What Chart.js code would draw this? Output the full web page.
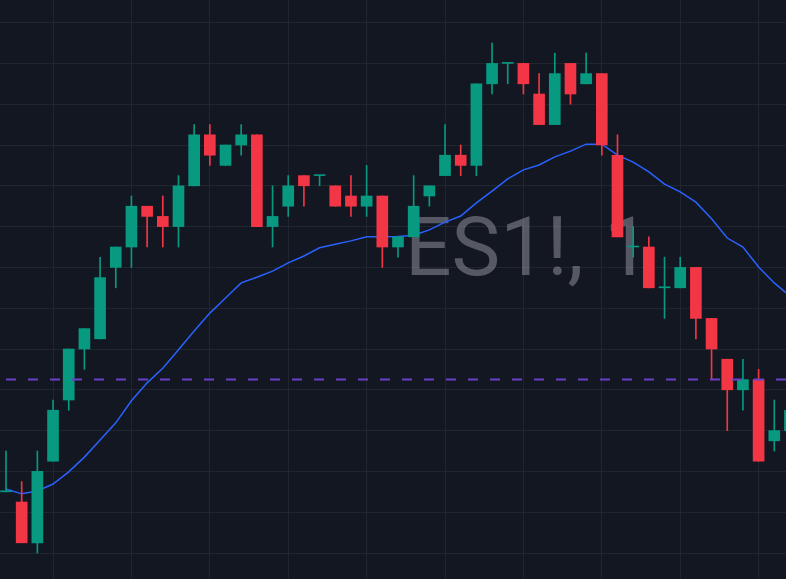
<!DOCTYPE html>
<html>
<head>
<meta charset="UTF-8">
<script src="https://cdn.jsdelivr.net/npm/chart.js"></script>
<style>
    html, body { margin: 0; padding: 0; background: #131722; overflow: hidden; }
    #wrap { width: 786px; height: 579px; }
</style>
</head>
<body>
<div id="wrap"><canvas id="candleChart"></canvas></div>

<script>
    // ES1! 1 minute candles
    const times = ["14:07", "14:08", "14:09", "14:10", "14:11", "14:12", "14:13", "14:14", "14:15", "14:16",
                   "14:17", "14:18", "14:19", "14:20", "14:21", "14:22", "14:23", "14:24", "14:25", "14:26",
                   "14:27", "14:28", "14:29", "14:30", "14:31", "14:32", "14:33", "14:34", "14:35", "14:36",
                   "14:37", "14:38", "14:39", "14:40", "14:41", "14:42", "14:43", "14:44", "14:45", "14:46",
                   "14:47", "14:48", "14:49", "14:50", "14:51", "14:52", "14:53", "14:54", "14:55", "14:56",
                   "14:57"];
    const open  = [5141.5, 5141.25, 5140.25, 5142.25, 5143.75, 5145.0, 5145.25, 5147.0, 5147.5, 5148.5,
                   5148.25, 5148.0, 5149.0, 5150.25, 5149.5, 5150.0, 5150.25, 5148.0, 5148.5, 5149.25,
                   5149.25, 5149.0, 5148.75, 5148.5, 5148.75, 5147.5, 5147.75, 5148.75, 5149.25, 5149.75,
                   5149.5, 5151.5, 5152.0, 5152.0, 5151.25, 5150.5, 5152.0, 5151.5, 5151.75, 5149.75,
                   5147.5, 5147.5, 5146.5, 5146.5, 5147.0, 5145.75, 5144.75, 5144.0, 5144.25, 5142.75,
                   5143.0];
    const high  = [5142.5, 5141.75, 5142.5, 5143.75, 5145.0, 5145.5, 5147.25, 5147.5, 5148.75, 5148.5,
                   5148.75, 5149.25, 5150.5, 5150.5, 5150.0, 5150.5, 5150.25, 5149.0, 5149.25, 5149.25,
                   5149.25, 5149.0, 5149.25, 5149.5, 5148.75, 5147.75, 5149.25, 5149.0, 5150.5, 5150.0,
                   5151.5, 5152.5, 5152.0, 5152.0, 5151.75, 5152.25, 5152.0, 5152.25, 5151.75, 5150.25,
                   5148.0, 5147.75, 5147.25, 5147.25, 5147.0, 5145.75, 5144.75, 5144.75, 5144.5, 5143.75,
                   5143.5];
    const low   = [5141.5, 5140.25, 5140.0, 5142.25, 5143.5, 5144.5, 5145.25, 5146.5, 5147.0, 5147.5,
                   5147.5, 5147.5, 5149.0, 5149.5, 5149.5, 5149.75, 5148.0, 5147.5, 5148.25, 5148.5,
                   5149.0, 5148.5, 5148.25, 5148.25, 5147.0, 5147.25, 5147.75, 5148.5, 5149.25, 5149.25,
                   5149.25, 5151.25, 5151.5, 5151.25, 5150.5, 5150.5, 5151.0, 5151.5, 5149.75, 5147.75,
                   5147.25, 5146.5, 5145.75, 5146.5, 5145.25, 5144.25, 5143.0, 5143.5, 5142.25, 5142.5,
                   5143.0];
    const close = [5141.5, 5140.25, 5142.0, 5143.5, 5145.0, 5145.5, 5146.75, 5147.5, 5148.5, 5148.25,
                   5148.0, 5149.0, 5150.25, 5149.75, 5150.0, 5150.25, 5148.0, 5148.25, 5149.0, 5149.0,
                   5149.25, 5148.5, 5148.5, 5148.75, 5147.5, 5147.75, 5148.5, 5149.0, 5149.75, 5149.5,
                   5151.5, 5152.0, 5152.0, 5151.5, 5150.5, 5151.75, 5151.25, 5151.75, 5150.0, 5147.75,
                   5147.5, 5146.5, 5146.5, 5147.0, 5145.75, 5145.0, 5144.0, 5144.25, 5142.25, 5143.0,
                   5143.5];
    // moving average as plotted
    const ma    = [5141.57, 5141.45, 5141.52, 5141.69, 5141.99, 5142.35, 5142.77, 5143.19, 5143.73, 5144.17,
                   5144.53, 5144.98, 5145.44, 5145.88, 5146.25, 5146.62, 5146.76, 5146.91, 5147.11, 5147.28,
                   5147.48, 5147.57, 5147.65, 5147.75, 5147.75, 5147.76, 5147.79, 5147.92, 5148.11, 5148.26,
                   5148.58, 5148.87, 5149.17, 5149.39, 5149.51, 5149.71, 5149.85, 5150.02, 5150.02, 5149.75,
                   5149.58, 5149.34, 5149.04, 5148.85, 5148.60, 5148.19, 5147.72, 5147.50, 5147.01, 5146.62,
                   5146.30];
    const lastPrice = 5144.25;
    const symbolText = "ES1!, 1";

    const UP = '#089981';
    const DOWN = '#f23645';

    function toMinutes(t) {
        const p = t.split(':');
        return Number(p[0]) * 60 + Number(p[1]);
    }

    const xs = times.map(toMinutes);
    const colors = close.map((c, i) => c >= open[i] ? UP : DOWN);
    const xMin = xs[0] - 0.383;
    const xMax = xMin + 50.13;

    const watermark = {
        id: 'watermark',
        beforeDatasetsDraw(chart) {
            const ctx = chart.ctx;
            ctx.save();
            ctx.font = '82px Roboto';
            ctx.fillStyle = 'rgba(178, 181, 190, 0.42)';
            ctx.textBaseline = 'alphabetic';
            ctx.fillText(symbolText, 405, 275);
            ctx.restore();
        }
    };

    new Chart(document.getElementById('candleChart'), {
        data: {
            datasets: [
                {
                    type: 'line',
                    label: 'Last',
                    data: [{x: xMin, y: lastPrice}, {x: xMax, y: lastPrice}],
                    borderColor: '#6c3fc8',
                    borderWidth: 2,
                    borderDash: [10, 12],
                    borderDashOffset: 16,
                    pointRadius: 0,
                    order: 0
                },
                {
                    type: 'bar',
                    label: 'Body',
                    data: xs.map((x, i) => ({x: x, y: [open[i], close[i]]})),
                    backgroundColor: colors,
                    barThickness: 11,
                    minBarLength: 1,
                    grouped: false,
                    order: 1
                },
                {
                    type: 'bar',
                    label: 'Wick',
                    data: xs.map((x, i) => ({x: x, y: [low[i], high[i]]})),
                    backgroundColor: colors,
                    barThickness: 1,
                    minBarLength: 1,
                    grouped: false,
                    order: 2
                },
                {
                    type: 'line',
                    label: 'MA',
                    data: xs.map((x, i) => ({x: x, y: ma[i]})),
                    borderColor: '#2962ff',
                    borderWidth: 1.5,
                    pointRadius: 0,
                    tension: 0,
                    order: 3
                }
            ]
        },
        options: {
            responsive: true,
            maintainAspectRatio: false,
            animation: false,
            events: [],
            layout: { padding: 0 },
            plugins: {
                legend: { display: false },
                tooltip: { enabled: false }
            },
            scales: {
                x: {
                    type: 'linear',
                    min: xMin,
                    max: xMax,
                    offset: false,
                    border: { display: false },
                    grid: { color: 'rgba(42, 46, 57, 0.6)', drawTicks: false, offset: false },
                    ticks: { display: false, stepSize: 5, includeBounds: false }
                },
                y: {
                    type: 'linear',
                    min: 5139.363,
                    max: 5153.554,
                    border: { display: false },
                    grid: { color: 'rgba(42, 46, 57, 0.6)', drawTicks: false },
                    ticks: { display: false, stepSize: 1, includeBounds: false }
                }
            }
        },
        plugins: [watermark]
    });
</script>
</body>
</html>
